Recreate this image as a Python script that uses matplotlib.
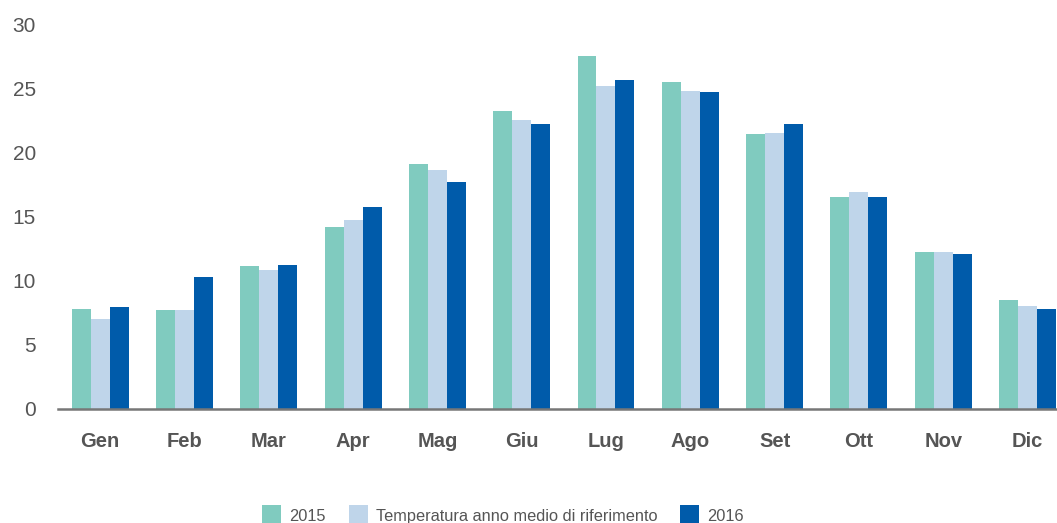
import matplotlib
matplotlib.use("Agg")
import matplotlib.pyplot as plt
import numpy as np

plt.rcParams["font.family"] = ["Liberation Sans", "DejaVu Sans"]

# Monthly temperatures
months = ["Gen", "Feb", "Mar", "Apr", "Mag", "Giu", "Lug", "Ago", "Set", "Ott", "Nov", "Dic"]
t2015 = [7.8, 7.7, 11.1, 14.2, 19.1, 23.2, 27.5, 25.5, 21.4, 16.5, 12.2, 8.5]
t_ref = [7.0, 7.7, 10.8, 14.7, 18.6, 22.5, 25.2, 24.8, 21.5, 16.9, 12.2, 8.0]
t2016 = [7.9, 10.3, 11.2, 15.7, 17.7, 22.2, 25.6, 24.7, 22.2, 16.5, 12.1, 7.8]

labels = ["2015", "Temperatura anno medio di riferimento", "2016"]
colors = ["#80CBBF", "#BFD5EA", "#005BAA"]

fig = plt.figure(figsize=(10.57, 5.23), dpi=100)
ax = fig.add_axes([58 / 1057, 1 - 408.7 / 523, 1 - 58 / 1057, (408.7 - 24) / 523])

x = np.arange(len(months))
w = 0.225
for i, (vals, lab, col) in enumerate(zip([t2015, t_ref, t2016], labels, colors)):
    ax.bar(x + (i - 1) * w, vals, width=w, color=col, label=lab)

ax.set_xlim(-0.5, 11.35)
ax.set_ylim(0, 30)
ax.set_yticks(range(0, 31, 5))
ax.set_xticks(x)
ax.set_xticklabels(months, fontweight="bold")

for s in ["top", "right", "left"]:
    ax.spines[s].set_visible(False)
ax.spines["bottom"].set_color("#777777")
ax.spines["bottom"].set_linewidth(1.8)

ax.tick_params(axis="y", length=0, pad=16, labelsize=15, labelcolor="#555555")
ax.tick_params(axis="x", length=0, pad=17, labelsize=14.5, labelcolor="#555555")

fig.legend(loc="lower center", bbox_to_anchor=(0.476, -0.035), ncol=3, frameon=False,
           fontsize=11.8, labelcolor="#555555", handlelength=1.15, handleheight=1.6,
           handletextpad=0.5, columnspacing=1.4)

plt.savefig("out.png", dpi=100)
